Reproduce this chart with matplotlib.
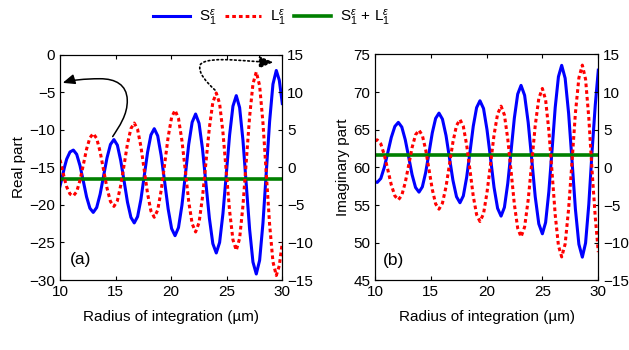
import matplotlib
matplotlib.use("Agg")
import matplotlib.pyplot as plt
from matplotlib.path import Path
from matplotlib.patches import FancyArrowPatch
from matplotlib.lines import Line2D

plt.rcParams['font.family'] = ['Liberation Sans', 'DejaVu Sans']
plt.rcParams['mathtext.fontset'] = 'custom'
plt.rcParams['mathtext.rm'] = 'Liberation Sans'
plt.rcParams['mathtext.it'] = 'Liberation Sans:italic'
plt.rcParams['font.size'] = 11
plt.rcParams['lines.solid_joinstyle'] = 'round'
plt.rcParams['lines.dash_joinstyle'] = 'round'

# ---------------- data: (a) real part ----------------
x_re = [10.0, 10.2, 10.4, 10.6, 10.9,
        11.2, 11.5, 11.8, 12.1, 12.39, 12.69,
        12.99, 13.3, 13.61, 13.92, 14.23, 14.54,
        14.85, 15.16, 15.46, 15.77, 16.07, 16.38,
        16.68, 16.98, 17.28, 17.58, 17.88, 18.18,
        18.48, 18.79, 19.1, 19.42, 19.73, 20.04,
        20.35, 20.66, 20.97, 21.28, 21.58, 21.89,
        22.2, 22.51, 22.82, 23.13, 23.44, 23.75,
        24.06, 24.36, 24.66, 24.96, 25.26, 25.56,
        25.86, 26.16, 26.46, 26.76, 27.06, 27.36,
        27.66, 27.96, 28.26, 28.56, 28.86, 29.16,
        29.46, 29.73, 30.0]
s_re = [-17.5, -16.3, -15.0, -13.9, -12.95,
        -12.7, -13.26, -14.78, -16.85, -18.93, -20.44,
        -21.0, -20.35, -18.58, -16.15, -13.73, -11.95,
        -11.3, -12.04, -14.08, -16.85, -19.63, -21.66,
        -22.4, -21.56, -19.26, -16.13, -12.99, -10.69,
        -9.85, -10.8, -13.41, -16.98, -20.54, -23.15,
        -24.1, -23.02, -20.05, -16.0, -11.95, -8.99,
        -7.9, -9.14, -12.53, -17.15, -21.78, -25.16,
        -26.4, -25.0, -21.16, -15.93, -10.69, -6.85,
        -5.45, -7.04, -11.39, -17.33, -23.26, -27.61,
        -29.2, -27.38, -22.43, -15.65, -8.87, -3.92,
        -2.1, -3.4, -6.5]
l_re = [1.0, -0.2, -1.5, -2.6, -3.55,
        -3.8, -3.24, -1.72, 0.35, 2.43, 3.94,
        4.5, 3.85, 2.08, -0.35, -2.77, -4.55,
        -5.2, -4.46, -2.42, 0.35, 3.13, 5.16,
        5.9, 5.06, 2.76, -0.37, -3.51, -5.81,
        -6.65, -5.7, -3.09, 0.48, 4.04, 6.65,
        7.6, 6.52, 3.55, -0.5, -4.55, -7.51,
        -8.6, -7.36, -3.97, 0.65, 5.28, 8.66,
        9.9, 8.5, 4.66, -0.57, -5.81, -9.65,
        -11.05, -9.46, -5.11, 0.83, 6.76, 11.11,
        12.7, 10.88, 5.93, -0.85, -7.63, -12.58,
        -14.4, -13.1, -10.0]
sum_re_x = [10.0, 30.0]
sum_re = [-16.5, -16.5]

# ---------------- data: (b) imaginary part ----------------
x_im = [10.0, 10.2, 10.52, 10.83, 11.15, 11.46, 11.78,
        12.09, 12.4, 12.71, 13.02, 13.32, 13.63,
        13.94, 14.24, 14.54, 14.84, 15.13, 15.43,
        15.73, 16.04, 16.36, 16.67, 16.98, 17.3,
        17.61, 17.91, 18.21, 18.51, 18.8, 19.1,
        19.4, 19.72, 20.03, 20.35, 20.66, 20.98,
        21.29, 21.59, 21.89, 22.19, 22.48, 22.78,
        23.08, 23.4, 23.72, 24.04, 24.35, 24.67,
        24.99, 25.28, 25.57, 25.86, 26.14, 26.43,
        26.72, 27.03, 27.34, 27.65, 27.95, 28.26,
        28.57, 28.86, 29.15, 29.44, 29.73, 30.0]
s_im = [58.1, 58.0, 58.53, 59.99, 61.99, 63.98, 65.44,
        65.97, 65.35, 63.66, 61.34, 59.03, 57.33,
        56.71, 57.41, 59.33, 61.96, 64.58, 66.5,
        67.2, 66.4, 64.23, 61.25, 58.28, 56.1,
        55.3, 56.21, 58.69, 62.07, 65.46, 67.93,
        68.84, 67.81, 65.01, 61.19, 57.36, 54.56,
        53.53, 54.69, 57.87, 62.21, 66.54, 69.72,
        70.88, 69.56, 65.96, 61.03, 56.11, 52.5,
        51.18, 52.68, 56.77, 62.36, 67.95, 72.04,
        73.54, 71.83, 67.18, 60.81, 54.44, 49.79,
        48.08, 49.96, 55.1, 62.1, 68.3, 72.9]
l_im = [3.55, 3.65, 3.12, 1.66, -0.34, -2.33, -3.79,
        -4.32, -3.7, -2.01, 0.31, 2.62, 4.32,
        4.94, 4.24, 2.32, -0.31, -2.93, -4.85,
        -5.55, -4.75, -2.58, 0.4, 3.37, 5.55,
        6.35, 5.44, 2.96, -0.42, -3.81, -6.28,
        -7.19, -6.16, -3.36, 0.46, 4.29, 7.09,
        8.12, 6.96, 3.78, -0.56, -4.89, -8.07,
        -9.23, -7.91, -4.31, 0.62, 5.54, 9.15,
        10.47, 8.97, 4.88, -0.71, -6.3, -10.39,
        -11.89, -10.18, -5.53, 0.84, 7.21, 11.86,
        13.57, 11.69, 6.55, -0.45, -6.65, -11.25]
sum_im_x = [10.0, 30.0]
sum_im = [61.65, 61.65]

x_ticks = [10, 15, 20, 25, 30]
re_left_ticks = [-30, -25, -20, -15, -10, -5, 0]
im_left_ticks = [45, 50, 55, 60, 65, 70, 75]
right_ticks = [-15, -10, -5, 0, 5, 10, 15]

lab_s = r'S$_1^{ε}$'
lab_l = r'L$_1^{ε}$'
lab_sum = r'S$_1^{ε}$ + L$_1^{ε}$'

BLUE = (0, 0, 1)
RED = (1, 0, 0)
GREEN = (0, 0.5, 0)
LW_S = 2.2
LW_L = 2.2
LW_G = 2.6
DOT = (0, (1.2, 1.0))

fig = plt.figure(figsize=(6.29, 3.5), dpi=100)
ax1 = fig.add_axes([0.0954, 0.2, 0.3534, 0.6437])
ax1r = ax1.twinx()
ax2 = fig.add_axes([0.5962, 0.199, 0.355, 0.6457])
ax2r = ax2.twinx()


def style(ax, axr, yl, yticks):
    ax.set_xlim(10, 30)
    ax.set_xticks(x_ticks)
    ax.set_ylim(yl)
    ax.set_yticks(yticks)
    axr.set_ylim(-15, 15)
    axr.set_yticks(right_ticks)
    ax.tick_params(direction='in', top=True, right=False, length=3,
                   labelsize=11, width=0.8)
    axr.tick_params(direction='in', length=3, labelsize=11, width=0.8)
    for a in (ax, axr):
        for sp in a.spines.values():
            sp.set_linewidth(0.8)
    ax.set_xlabel('Radius of integration (µm)', fontsize=11, labelpad=8)


ax1.plot(x_re, s_re, color=BLUE, lw=LW_S, zorder=2)
ax1.plot(sum_re_x, sum_re, color=GREEN, lw=LW_G, zorder=3)
ax1r.plot(x_re, l_re, color=RED, lw=LW_L, linestyle=DOT)
style(ax1, ax1r, (-30, 0), re_left_ticks)
ax1.set_ylabel('Real part', fontsize=11, labelpad=2)
ax1.text(0.045, 0.09, '(a)', transform=ax1.transAxes, fontsize=12.5,
         va='center', ha='left')

ax2.plot(x_im, s_im, color=BLUE, lw=LW_S, zorder=2)
ax2.plot(sum_im_x, sum_im, color=GREEN, lw=LW_G, zorder=3)
ax2r.plot(x_im, l_im, color=RED, lw=LW_L, linestyle=DOT)
style(ax2, ax2r, (45, 75), im_left_ticks)
ax2.set_ylabel('Imaginary part', fontsize=11, labelpad=2)
ax2.text(0.036, 0.09, '(b)', transform=ax2.transAxes, fontsize=12.5,
         va='center', ha='left')

# annotation arrows (decoration) in left-axis data coordinates of panel (a)
solid_path = Path(
    [(14.74, -10.9), (15.3, -9.6), (16.1, -8.0), (16.05, -6.0),
     (16.0, -4.0), (15.0, -3.2), (13.6, -3.2),
     (12.2, -3.2), (11.0, -3.4), (10.24, -3.75)],
    [Path.MOVETO] + [Path.CURVE4] * 9)
arr1 = FancyArrowPatch(path=solid_path, transform=ax1.transData,
                       arrowstyle='-|>,head_length=0.6,head_width=0.25',
                       mutation_scale=12, lw=1.1, color='k', clip_on=False,
                       zorder=5)
ax1r.add_patch(arr1)
arr1.set_transform(ax1.transData)

dot_path = Path(
    [(23.94, -4.7), (23.2, -3.7), (22.4, -2.4), (22.6, -1.4),
     (22.8, -0.6), (24.5, -0.6), (25.6, -0.7),
     (26.8, -0.8), (28.2, -1.0), (29.2, -1.0)],
    [Path.MOVETO] + [Path.CURVE4] * 9)
arr2 = FancyArrowPatch(path=dot_path, transform=ax1.transData,
                       arrowstyle='-|>,head_length=0.7,head_width=0.3',
                       mutation_scale=12, lw=1.2, color='k', linestyle=':',
                       clip_on=False, zorder=5)
ax1r.add_patch(arr2)
arr2.set_transform(ax1.transData)

handles = [Line2D([], [], color=BLUE, lw=LW_S),
           Line2D([], [], color=RED, lw=LW_L, linestyle=DOT),
           Line2D([], [], color=GREEN, lw=LW_G)]
fig.legend(handles, [lab_s, lab_l, lab_sum], loc='center',
           bbox_to_anchor=(0.432, 0.948), ncol=3, frameon=False,
           handlelength=2.4, handletextpad=0.6, columnspacing=0.5,
           fontsize=11)

fig.savefig('out.png', dpi=100)
